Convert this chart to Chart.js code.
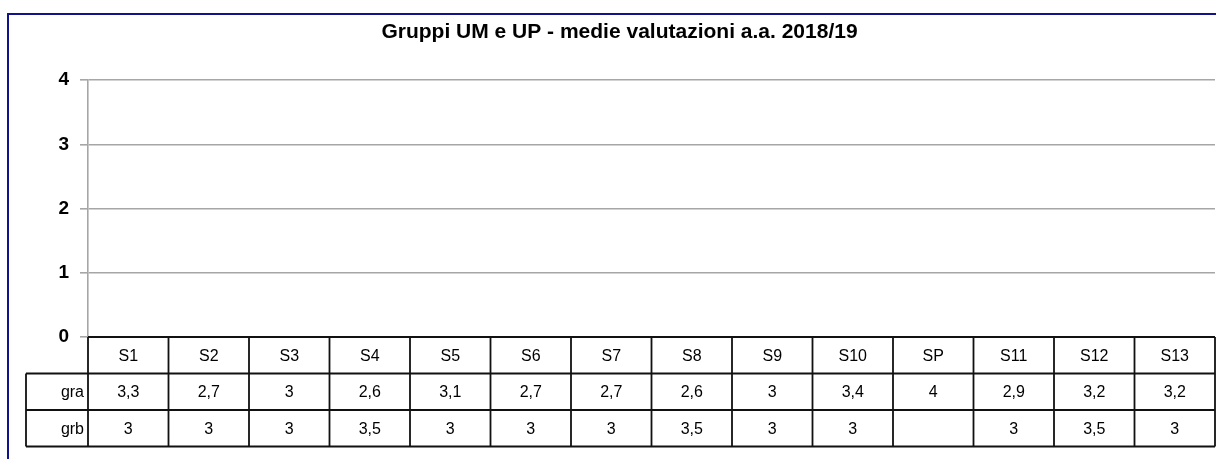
<!DOCTYPE html>
<html>
<head>
<meta charset="utf-8">
<script src="https://cdn.jsdelivr.net/npm/chart.js@4.4.1/dist/chart.umd.min.js"></script>
<style>
 html, body { margin: 0; padding: 0; background: #fff; }
 #wrap { position: relative; width: 1216px; height: 459px; }
</style>
</head>
<body>
<div id="wrap"><canvas id="chart-canvas" width="1216" height="459"></canvas></div>
<script>
var categories = ["S1", "S2", "S3", "S4", "S5", "S6", "S7", "S8", "S9", "S10", "SP", "S11", "S12", "S13"];
var graValues = [3.3, 2.7, 3, 2.6, 3.1, 2.7, 2.7, 2.6, 3, 3.4, 4, 2.9, 3.2, 3.2];
var grbValues = [3, 3, 3, 3.5, 3, 3, 3, 3.5, 3, 3, null, 3, 3.5, 3];
var yTicks = [0, 1, 2, 3, 4];

var tableFont = '16px "Liberation Sans", Arial, sans-serif';

function formatValue(v) {
 if (v === null || v === undefined) return "";
 return String(v).replace(".", ",");
}

// data table under the plot + the navy frame
var dataTablePlugin = {
 id: "dataTable",
 afterDraw: function (chart) {
  var ctx = chart.ctx;
  var x = chart.scales.x;
  var area = chart.chartArea;
  var n = categories.length;
  var w = (area.right - area.left) / n;
  var rowH = 36.5;
  var top = area.bottom;
  var labelLeft = 26;
  var rows = [
   { label: "gra", values: graValues },
   { label: "grb", values: grbValues },
  ];

  ctx.save();
  ctx.strokeStyle = "#111";
  ctx.lineWidth = 1.8;

  // horizontal lines
  ctx.beginPath();
  ctx.moveTo(area.left, top);
  ctx.lineTo(area.right, top);
  for (var r = 1; r <= rows.length + 1; r++) {
   var yy = top + r * rowH;
   ctx.moveTo(labelLeft, yy);
   ctx.lineTo(area.right, yy);
  }
  // vertical lines
  for (var i = 0; i <= n; i++) {
   var xx = x.getPixelForValue(0) - w / 2 + i * w;
   ctx.moveTo(xx, top);
   ctx.lineTo(xx, top + (rows.length + 1) * rowH);
  }
  ctx.moveTo(labelLeft, top + rowH);
  ctx.lineTo(labelLeft, top + (rows.length + 1) * rowH);
  ctx.stroke();

  // texts
  ctx.fillStyle = "#000";
  ctx.font = tableFont;
  ctx.textBaseline = "middle";
  ctx.textAlign = "center";
  categories.forEach(function (c, i) {
   ctx.fillText(c, x.getPixelForValue(i), top + rowH / 2 + 1);
  });
  rows.forEach(function (row, r) {
   var cy = top + (r + 1) * rowH + rowH / 2 + 1;
   ctx.textAlign = "right";
   ctx.fillText(row.label, area.left - 4, cy);
   ctx.textAlign = "center";
   row.values.forEach(function (v, i) {
    ctx.fillText(formatValue(v), x.getPixelForValue(i), cy);
   });
  });

  // frame
  ctx.strokeStyle = "#12128a";
  ctx.lineWidth = 2;
  ctx.beginPath();
  ctx.moveTo(8, chart.height);
  ctx.lineTo(8, 14);
  ctx.lineTo(chart.width, 14);
  ctx.stroke();
  ctx.restore();
 },
};

var ctx = document.getElementById("chart-canvas");

new Chart(ctx, {
 type: "bar",
 data: {
  labels: categories,
  datasets: [
   {
    label: "gra",
    data: graValues,
    backgroundColor: "rgba(0,0,0,0)",
    borderWidth: 0,
   },
   {
    label: "grb",
    data: grbValues,
    backgroundColor: "rgba(0,0,0,0)",
    borderWidth: 0,
   },
  ],
 },
 options: {
  responsive: false,
  animation: false,
  layout: {
   padding: { top: 14, left: 24, right: 1, bottom: 122 },
  },
  scales: {
   x: {
    display: false,
   },
   y: {
    min: 0,
    max: 4,
    afterFit: function (scale) {
     scale.width = 64;
    },
    afterBuildTicks: function (scale) {
     scale.ticks = yTicks.map(function (v) {
      return { value: v };
     });
    },
    ticks: {
     color: "#000",
     padding: 11,
     font: { family: '"Liberation Sans", Arial, sans-serif', size: 19, weight: "bold" },
    },
    grid: {
     color: "#a6a6a6",
     lineWidth: 1.6,
     tickLength: 8,
    },
    border: {
     color: "#a6a6a6",
     width: 1.6,
    },
   },
  },
  plugins: {
   legend: { display: false },
   tooltip: { enabled: false },
   title: {
    display: true,
    text: "Gruppi UM e UP - medie valutazioni a.a. 2018/19",
    color: "#000",
    font: { family: '"Liberation Sans", Arial, sans-serif', size: 21, weight: "bold" },
    padding: { top: 6, bottom: 35 },
   },
  },
 },
 plugins: [dataTablePlugin],
});
</script>
</body>
</html>
